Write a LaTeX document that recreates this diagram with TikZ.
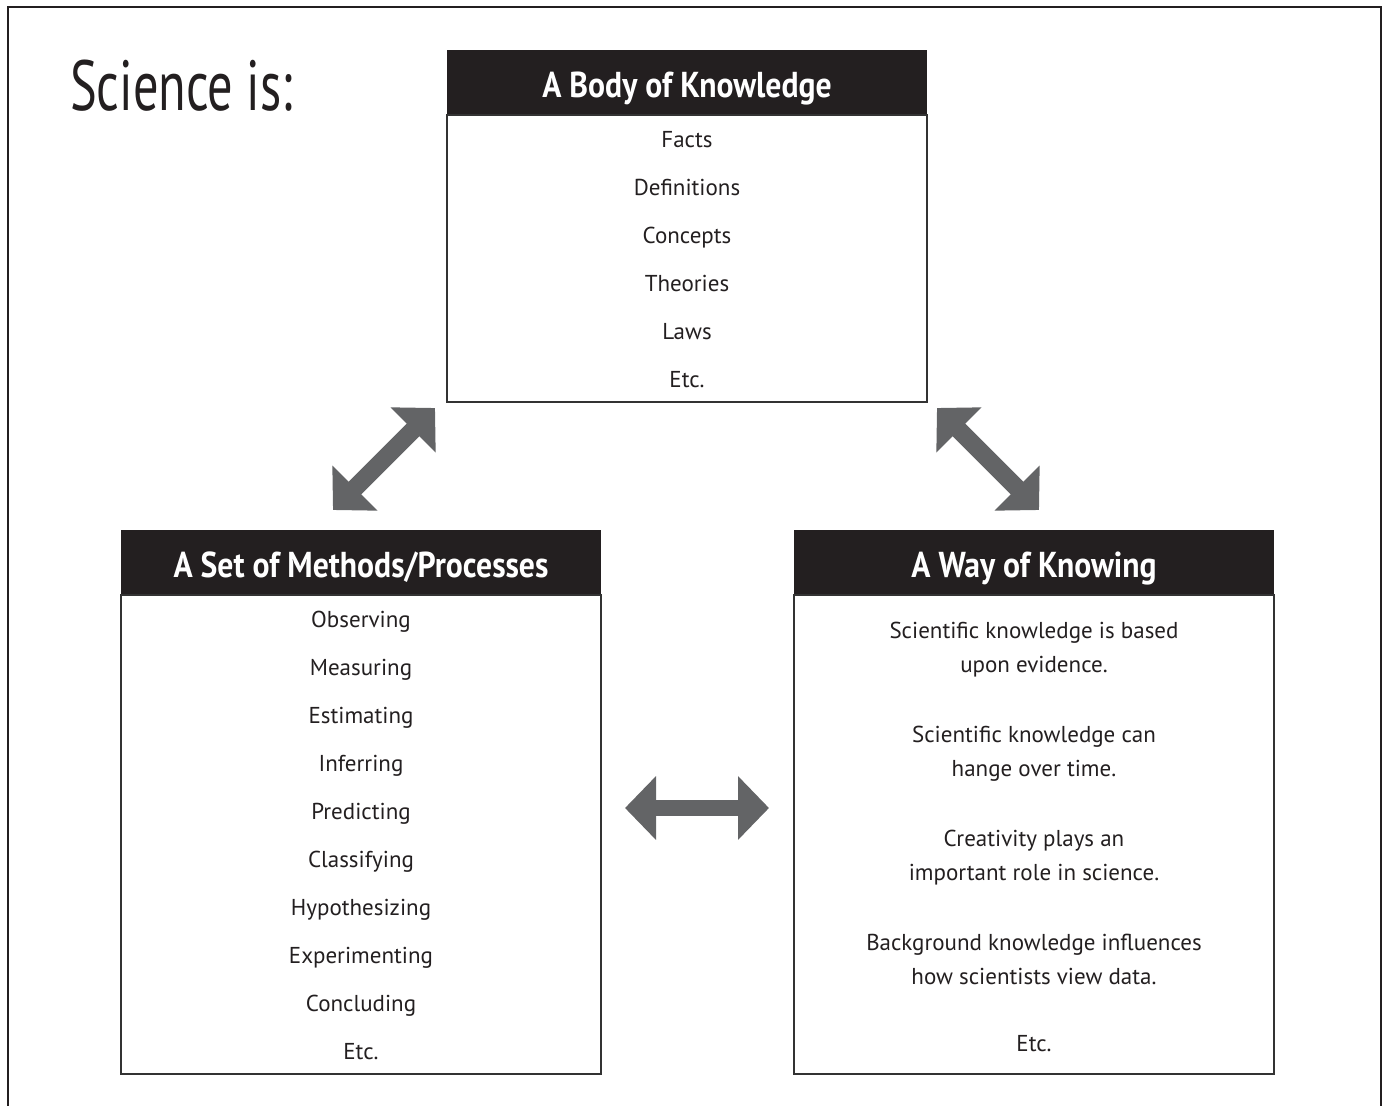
\documentclass[tikz,border=0pt]{standalone}
\usepackage{fontspec}
\setmainfont{PT Sans}
\newfontfamily\headfont[FakeStretch=0.88]{PT Sans}
\newfontfamily\bigfont[FakeStretch=0.71]{PT Sans}
\usetikzlibrary{arrows.meta,positioning}
\definecolor{headblack}{HTML}{231F20}
\definecolor{arrowgray}{HTML}{636466}

\begin{document}
\begin{tikzpicture}[x=1pt,y=-1pt,
  head/.style={fill=headblack,text=white,font=\headfont\bfseries\fontsize{36}{36}\selectfont,
    minimum width=480pt,minimum height=65pt,inner sep=0pt,outer sep=0pt,
    text height=31pt,text depth=2pt,anchor=north west},
  box/.style={draw=black!80,line width=1.2pt,minimum width=480pt,inner sep=0pt,outer sep=0pt},
  item/.style={font=\fontsize{23}{34}\selectfont,text=headblack,anchor=base,align=center},
  bigarrow/.style={draw=arrowgray,line width=18pt,
    {Triangle[length=31pt,width=62pt]}-{Triangle[length=31pt,width=62pt]}}]
\useasboundingbox (0,0) rectangle (1385,1106);
\draw[headblack,line width=2pt] (8,1110) |- (1381,7) -- (1381,1110);

\node[anchor=base west,inner sep=0pt,text=headblack,
  font=\bigfont\fontsize{71}{71}\selectfont] (science) at (70,110) {Science is:};

% body of knowledge
\node[head] (bodyhead) at (447,50) {A Body of Knowledge};
\node[box,minimum height=287pt,below=0pt of bodyhead] (body) {};
\node[item] (facts) at (687,147) {Facts};
\node[item] (defs) at (687,195) {Definitions};
\node[item] (concepts) at (687,243) {Concepts};
\node[item] (theories) at (687,291) {Theories};
\node[item] (laws) at (687,339) {Laws};
\node[item] (bodyetc) at (687,387) {Etc.};

% methods
\node[head] (methodshead) at (121,530) {A Set of Methods/Processes};
\node[box,minimum height=479pt,below=0pt of methodshead] (methods) {};
\node[item] (observing) at (361,627) {Observing};
\node[item] (measuring) at (361,675) {Measuring};
\node[item] (estimating) at (361,723) {Estimating};
\node[item] (inferring) at (361,771) {Inferring};
\node[item] (predicting) at (361,819) {Predicting};
\node[item] (classifying) at (361,867) {Classifying};
\node[item] (hypothesizing) at (361,915) {Hypothesizing};
\node[item] (experimenting) at (361,963) {Experimenting};
\node[item] (concluding) at (361,1011) {Concluding};
\node[item] (methodsetc) at (361,1059) {Etc.};

% way of knowing (base = last line)
\node[head] (knowinghead) at (794,530) {A Way of Knowing};
\node[box,minimum height=479pt,below=0pt of knowinghead] (knowing) {};
\node[item] (evidence) at (1034,672) {Scientific knowledge is based\\upon evidence.};
\node[item] (change) at (1034,776) {Scientific knowledge can\\hange over time.};
\node[item] (creativity) at (1034,880) {Creativity plays an\\important role in science.};
\node[item] (background) at (1034,984) {Background knowledge influences\\how scientists view data.};
\node[item] (knowingetc) at (1034,1051) {Etc.};

% arrows
\coordinate (ml) at (333,510);
\coordinate (bl) at (435,408);
\coordinate (br) at (937,408);
\coordinate (kr) at (1039,510);
\coordinate (mh) at (625,808);
\coordinate (kh) at (769,808);
\draw[bigarrow] (ml) -- (bl);
\draw[bigarrow] (br) -- (kr);
\draw[bigarrow,line width=16pt] (mh) -- (kh);
\end{tikzpicture}
\end{document}
